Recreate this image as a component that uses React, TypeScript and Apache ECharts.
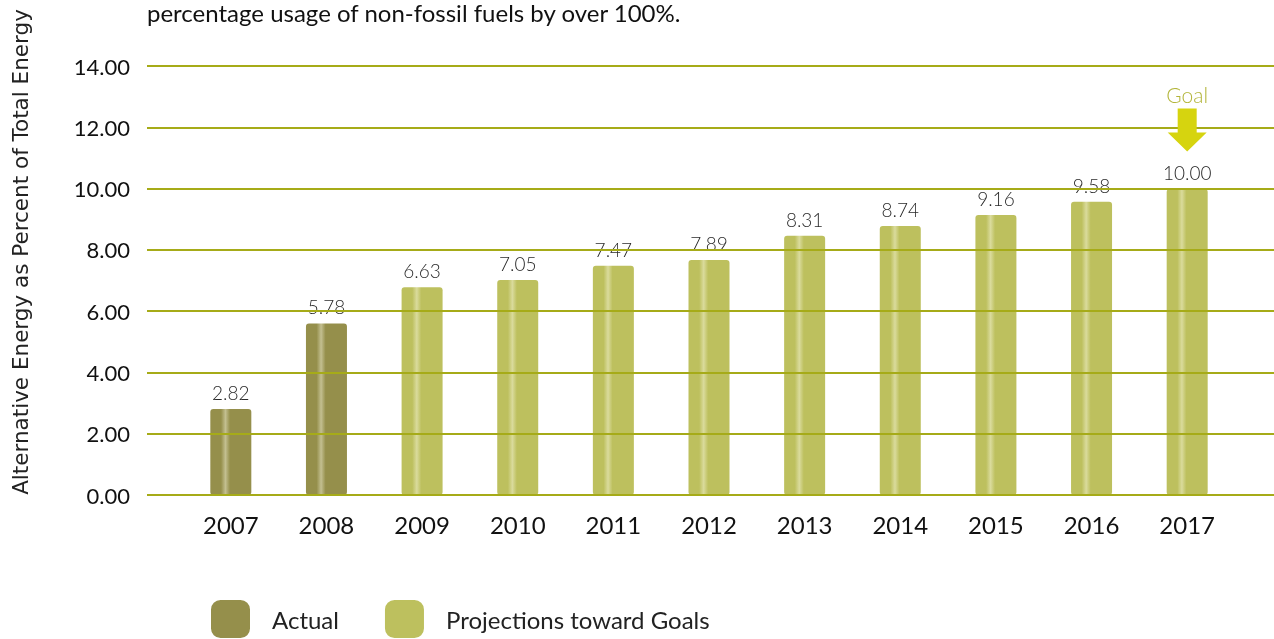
import React, { useEffect, useRef } from "react";
import * as echarts from "echarts";

const years = ["2007", "2008", "2009", "2010", "2011", "2012", "2013", "2014", "2015", "2016", "2017"];
// bar heights as drawn in the picture
const barHeights = [2.81, 5.6, 6.78, 7.02, 7.48, 7.67, 8.46, 8.78, 9.14, 9.57, 9.99];
// value labels printed above bars
const labelValues = ["2.82", "5.78", "6.63", "7.05", "7.47", "7.89", "8.31", "8.74", "9.16", "9.58", "10.00"];
const isActual = [true, true, false, false, false, false, false, false, false, false, false];
const yTicks = { min: 0, max: 14, interval: 2 };
const goalYear = "2017";

const ACTUAL = "#958f4b";
const ACTUAL_HI = "#c3bf90";
const PROJ = "#bdc05e";
const PROJ_HI = "#dadb9c";
const FONT = "Lato, 'Open Sans', sans-serif";

function grad(base: string, hi: string) {
  return new echarts.graphic.LinearGradient(0, 0, 1, 0, [
    { offset: 0, color: base },
    { offset: 0.26, color: base },
    { offset: 0.37, color: hi },
    { offset: 0.48, color: base },
    { offset: 1, color: base },
  ]);
}

export default function App() {
  const ref = useRef<HTMLDivElement>(null);
  useEffect(() => {
    if (!ref.current) return;
    const chart = echarts.init(ref.current, undefined, { renderer: "svg" });
    const actualData = barHeights.map((v, i) => (isActual[i] ? v : "-"));
    const projData = barHeights.map((v, i) => (!isActual[i] ? v : "-"));
    const labelFmt = (p: any) => labelValues[p.dataIndex];
    const labelStyle = {
      show: true,
      position: "top",
      distance: 7,
      formatter: labelFmt,
      fontFamily: FONT,
      fontSize: 19,
      fontWeight: 300,
      color: "#2a2a2a",
    };
    const goalIdx = years.indexOf(goalYear);
    chart.setOption({
      animation: false,
      grid: [
        { left: 147, right: 0, top: 66, bottom: 144 },
        { left: 183, right: 39, top: 66, bottom: 144 },
      ],
      xAxis: [
        { type: "category", gridIndex: 0, data: years, show: false },
        {
          type: "category",
          gridIndex: 1,
          data: years,
          axisLine: { show: false },
          axisTick: { show: false },
          axisLabel: { fontFamily: FONT, fontSize: 24, color: "#111", margin: 17 },
        },
      ],
      yAxis: [
        {
          type: "value",
          gridIndex: 0,
          min: yTicks.min,
          max: yTicks.max,
          interval: yTicks.interval,
          z: 5,
          axisLine: { show: false },
          axisTick: { show: false },
          axisLabel: {
            formatter: (v: number) => v.toFixed(2),
            fontFamily: FONT,
            fontSize: 22,
            color: "#111",
            margin: 17,
          },
          splitLine: { show: true, lineStyle: { color: "#a6ab18", width: 2 } },
        },
        {
          type: "value",
          gridIndex: 1,
          min: yTicks.min,
          max: yTicks.max,
          interval: yTicks.interval,
          show: false,
          splitLine: { show: false },
        },
      ],
      legend: {
        left: 206,
        top: 595,
        itemWidth: 39,
        itemHeight: 38,
        itemGap: 46,
        icon: "roundRect",
        textStyle: { fontFamily: FONT, fontSize: 24, color: "#222", padding: [0, 0, 0, 17] },
        data: [
          { name: "Actual", itemStyle: { color: ACTUAL } },
          { name: "Projections toward Goals", itemStyle: { color: PROJ } },
        ],
      },
      series: [
        {
          name: "Actual",
          type: "bar",
          xAxisIndex: 1,
          yAxisIndex: 1,
          data: actualData,
          barWidth: 41,
          barGap: "-100%",
          itemStyle: { color: grad(ACTUAL, ACTUAL_HI), borderRadius: 3 },
          label: labelStyle,
        },
        {
          name: "Projections toward Goals",
          type: "bar",
          xAxisIndex: 1,
          yAxisIndex: 1,
          data: projData,
          barWidth: 41,
          barGap: "-100%",
          itemStyle: { color: grad(PROJ, PROJ_HI), borderRadius: 3 },
          label: labelStyle,
          markPoint: {
            silent: true,
            data: [
              {
                coord: [goalIdx, barHeights[goalIdx]],
                symbol: "path://M10,0 L29,0 L29,24 L39,24 L19.5,43 L0,24 L10,24 Z",
                symbolSize: [39, 43],
                symbolOffset: [0, -59],
                itemStyle: { color: "#d6d40f" },
                label: {
                  show: true,
                  position: "top",
                  distance: 3,
                  formatter: "Goal",
                  fontFamily: FONT,
                  fontSize: 21,
                  fontWeight: 300,
                  color: "#b3b53a",
                },
              },
            ],
          },
        },
      ],
      graphic: [
        {
          type: "text",
          left: 147,
          top: 0,
          style: {
            text: "percentage usage of non-fossil fuels by over 100%.",
            font: "24px " + FONT,
            fill: "#111",
          },
        },
        {
          type: "text",
          x: 20,
          y: 252,
          rotation: Math.PI / 2,
          style: {
            text: "Alternative Energy as Percent of Total Energy",
            font: "21.5px 'DejaVu Sans', sans-serif",
            fill: "#222",
            align: "center",
            verticalAlign: "middle",
          },
        },
      ],
    });
    return () => chart.dispose();
  }, []);
  return (
    <div
      ref={ref}
      style={{ position: "fixed", left: 0, top: 0, width: 1274, height: 639 }}
    />
  );
}
